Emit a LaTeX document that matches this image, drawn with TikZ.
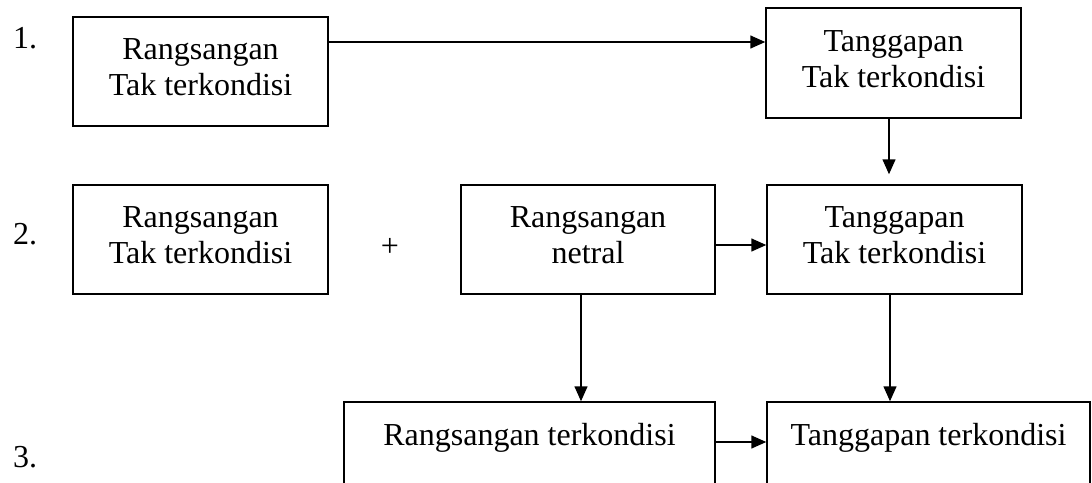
\documentclass[tikz,border=0pt]{standalone}
\usepackage{fontspec}
\setmainfont{Liberation Serif}
\usetikzlibrary{arrows.meta}
\begin{document}
\begin{tikzpicture}[x=1pt,y=-1pt,
  box/.style={draw, line width=1.5pt, inner sep=0pt},
  txt/.style={align=center, inner sep=0pt, font=\fontsize{32}{36}\selectfont},
  num/.style={anchor=base, inner sep=0pt, font=\fontsize{32}{36}\selectfont},
  arr/.style={line width=1.5pt, -{Triangle[length=15pt,width=13pt]}}]
\useasboundingbox (0,0) rectangle (1092,482);
\clip (0,0) rectangle (1092,482);
% boxes
\node[box, minimum width=255pt, minimum height=109pt] (A1) at (200.5,71.5) {};
\node[box, minimum width=255pt, minimum height=110pt] (B1) at (893.5,63) {};
\node[box, minimum width=255pt, minimum height=109pt] (A2) at (200.5,239.5) {};
\node[box, minimum width=254pt, minimum height=109pt] (C2) at (588,239.5) {};
\node[box, minimum width=255pt, minimum height=109pt] (B2) at (894.5,239.5) {};
\node[box, minimum width=371pt, minimum height=90pt] (C3) at (529.5,447) {};
\node[box, minimum width=323pt, minimum height=90pt] (B3) at (928.5,447) {};
% texts
\node[txt] (tA1) at (200.5,67) {Rangsangan\\Tak terkondisi};
\node[txt] (tB1) at (893.5,59) {Tanggapan\\Tak terkondisi};
\node[txt] (tA2) at (200.5,235.5) {Rangsangan\\Tak terkondisi};
\node[txt] (tC2) at (588,235.5) {Rangsangan\\netral};
\node[txt] (tB2) at (894.5,235.5) {Tanggapan\\Tak terkondisi};
\node[txt] (tC3) at (529.5,438) {Rangsangan terkondisi};
\node[txt] (tB3) at (928.5,438) {Tanggapan terkondisi};
% numbers
\node[num] (n1) at (25,48) {1.};
\node[num] (n2) at (25,244) {2.};
\node[num] (n3) at (25,467) {3.};
\node[txt] (plus) at (390,247) {+};
% connector helpers
\coordinate (r1) at (0,42);
\coordinate (r2) at (0,245);
\coordinate (r3) at (0,442);
\coordinate (v1) at (889,0);
\coordinate (v2) at (581,0);
\coordinate (v3) at (890,0);
% connectors
\draw[arr] (A1.east |- r1) -- (B1.west |- r1);
\draw[arr, shorten >=10pt] (B1.south -| v1) -- (B2.north -| v1);
\draw[arr] (C2.east |- r2) -- (B2.west |- r2);
\draw[arr] (C2.south -| v2) -- (C3.north -| v2);
\draw[arr] (B2.south -| v3) -- (B3.north -| v3);
\draw[arr] (C3.east |- r3) -- (B3.west |- r3);
\end{tikzpicture}
\end{document}
